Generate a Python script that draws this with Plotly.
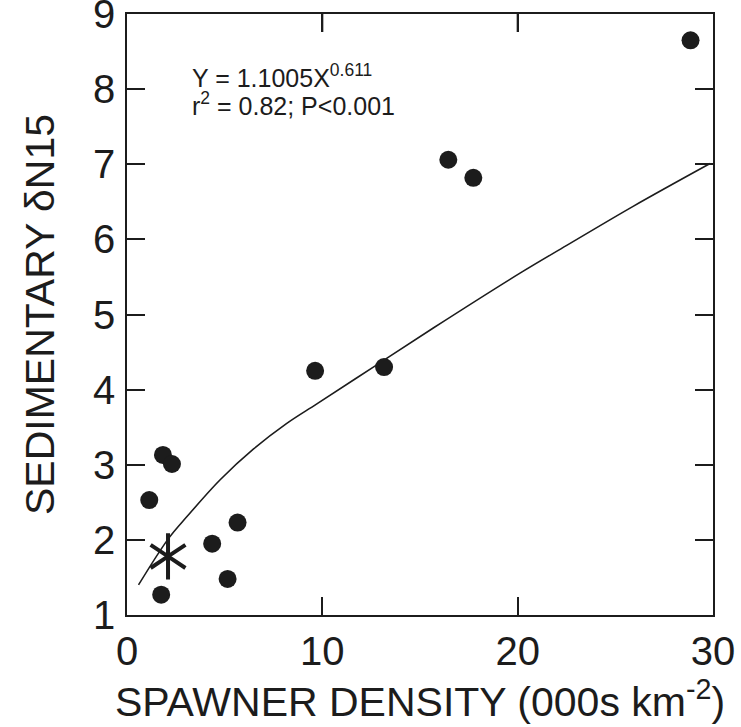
import plotly.graph_objects as go

# Observed points (spawner density, 000s km^-2 ; sedimentary dN15)
density = [28.85, 16.45, 17.73, 9.63, 13.16, 1.84, 2.30, 1.14, 5.66, 4.36, 5.15, 1.75]
dn15 = [8.65, 7.06, 6.82, 4.25, 4.30, 3.13, 3.01, 2.53, 2.23, 1.95, 1.48, 1.27]

# Special (asterisk) point
star_x = [2.10]
star_y = [1.78]

# Fitted curve
curve_x = [0.59, 2.13, 3.07, 4.77, 6.48, 8.18, 9.72, 12.61, 15.68, 20.12, 22.51, 25.91, 29.85]
curve_y = [1.40, 2.02, 2.31, 2.80, 3.21, 3.55, 3.81, 4.30, 4.82, 5.55, 5.92, 6.44, 7.01]

x_ticks = [0, 10, 20, 30]
y_ticks = [1, 2, 3, 4, 5, 6, 7, 8, 9]

ink = "#1c1c1c"
font_family = "Liberation Sans, Arial, Helvetica, sans-serif"
tick_len = 18
px_per_unit_y = (727 - 14 - 112) / (y_ticks[-1] - y_ticks[0])

fig = go.Figure()

fig.add_trace(go.Scatter(
    x=curve_x, y=curve_y, mode="lines",
    line=dict(color=ink, width=1.6, shape="spline", smoothing=1.0),
    hoverinfo="skip", showlegend=False,
))

fig.add_trace(go.Scatter(
    x=density, y=dn15, mode="markers",
    marker=dict(symbol="circle", size=18, color=ink, line=dict(width=0)),
    showlegend=False,
))

for sym in ["y-up-open", "y-down-open"]:
    fig.add_trace(go.Scatter(
        x=star_x, y=star_y, mode="markers",
        marker=dict(symbol=sym, size=29, color=ink, line=dict(width=4, color=ink)),
        showlegend=False,
    ))

fig.add_annotation(
    x=3.2, y=8.17, xref="x", yref="y", xanchor="left", yanchor="middle",
    text="Y = 1.1005X<sup>0.611</sup>", showarrow=False,
    font=dict(family=font_family, size=25, color=ink),
)
fig.add_annotation(
    x=3.2, y=7.80, xref="x", yref="y", xanchor="left", yanchor="middle",
    text="r<sup>2</sup> = 0.82; P<0.001", showarrow=False,
    font=dict(family=font_family, size=25, color=ink),
)

# top (mirrored) inside ticks
top = y_ticks[-1]
for xv in x_ticks[1:-1]:
    fig.add_trace(go.Scatter(
        x=[xv, xv], y=[top, top - tick_len / px_per_unit_y], mode="lines",
        line=dict(color=ink, width=2), hoverinfo="skip", showlegend=False,
        cliponaxis=False,
    ))

axis_common = dict(
    showline=True, linecolor=ink, linewidth=1.6, mirror="ticks",
    ticks="inside", ticklen=tick_len, tickwidth=1.6, tickcolor=ink,
    showgrid=False, zeroline=False,
    ticklabeloverflow="allow",
    tickfont=dict(family=font_family, size=40, color=ink),
)

fig.update_xaxes(
    range=[0, 30], tickvals=x_ticks, ticktext=[str(v) for v in x_ticks],
    title=dict(text="SPAWNER DENSITY (000s km<sup>-2</sup>)",
               font=dict(family=font_family, size=41, color=ink), standoff=4),
    ticklabelstandoff=0,
    **axis_common,
)
fig.update_yaxes(
    range=[1, 9], tickvals=y_ticks, ticktext=[str(v) for v in y_ticks],
    title=dict(text="SEDIMENTARY δN15",
               font=dict(family=font_family, size=41, color=ink), standoff=26),
    ticklabelstandoff=2,
    **axis_common,
)

fig.update_layout(
    width=741, height=727,
    margin=dict(l=127, r=28, t=14, b=112, autoexpand=False),
    paper_bgcolor="white", plot_bgcolor="white",
    showlegend=False,
)

fig.write_html("out.html", config={"displayModeBar": False},
               post_script="document.body.style.margin='0';")
